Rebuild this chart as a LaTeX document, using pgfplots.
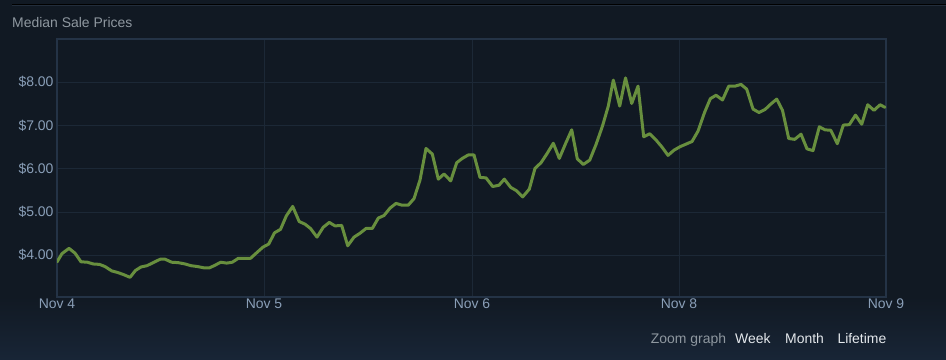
\documentclass[border=0pt]{standalone}
\usepackage{pgfplots}
\pgfplotsset{compat=1.18}
\usepackage{fontspec}
\setmainfont{Liberation Sans}
\definecolor{bgc}{HTML}{111923}
\definecolor{bgb}{HTML}{182536}
\definecolor{gridc}{HTML}{1C2836}
\definecolor{axc}{HTML}{243346}
\definecolor{linec}{HTML}{688F3E}
\definecolor{tickc}{HTML}{8A9FB8}
\definecolor{titlec}{HTML}{8F98A0}
\definecolor{linkc}{HTML}{E4E8EC}
\definecolor{topline}{HTML}{222D3B}
\begin{document}
\begin{tikzpicture}[x=1bp,y=1bp]
\fill[bgc] (0,0) rectangle (946,359);
\shade[top color=bgc, bottom color=bgb] (0,0) rectangle (946,62);
\draw[topline, line width=1.2bp] (12,353.3) -- (946,353.3);
\draw[black, line width=1.2bp] (12,354.6) -- (946,354.6);
\node[anchor=base west, inner sep=0, text=titlec, font=\fontsize{14}{16}\selectfont] at (12,331.7) {Median Sale Prices};
\begin{axis}[
  at={(57bp,62bp)}, anchor=south west,
  scale only axis, width=829bp, height=258bp,
  xmin=0, xmax=829, ymin=3.036, ymax=9.0,
  xtick={0,207,415,622,829}, xticklabels={Nov 4,Nov 5,Nov 6,Nov 8,Nov 9},
  ytick={4,5,6,7,8}, yticklabels={\$4.00,\$5.00,\$6.00,\$7.00,\$8.00},
  major tick length=0,
  grid=major, major grid style={gridc, line width=1bp},
  axis line style={axc, line width=1.6bp},
  ticklabel style={font=\fontsize{14}{16}\selectfont, text=tickc},
  xticklabel style={inner ysep=2bp},
  axis background/.style={fill=bgc},
]
\addplot[linec, line width=3bp, line join=round, line cap=round] coordinates {
(0,3.845)(5,4.04)(12,4.16)(18,4.05)(24,3.85)(30.5,3.84)(36,3.80)(42.5,3.79)(48,3.74)(54.7,3.64)
(61,3.60)(67,3.55)(73,3.49)(78.5,3.65)(84,3.73)(90,3.76)(97,3.84)(103.3,3.91)(108,3.91)(114.7,3.84)
(121.3,3.83)(128,3.80)(134,3.76)(140.5,3.74)(147,3.71)(152.5,3.71)(158,3.77)(163.7,3.84)(169.7,3.82)(175.3,3.84)
(181.3,3.93)(187.5,3.93)(193.5,3.93)(199.7,4.06)(206,4.19)(211.7,4.26)(217.5,4.52)(223.5,4.60)(229.3,4.91)(235.7,5.13)
(242.2,4.78)(248,4.72)(253.5,4.62)(260,4.42)(266.3,4.65)(272.3,4.76)(278,4.68)(284.7,4.69)(290.7,4.22)(297,4.42)
(303,4.51)(309,4.62)(315.3,4.62)(321.3,4.86)(327,4.92)(333,5.09)(339,5.20)(344.7,5.16)(351.3,5.16)(357,5.31)
(363,5.74)(369,6.47)(375.3,6.34)(381.3,5.76)(387,5.88)(393.7,5.72)(399.7,6.14)(405.3,6.24)(411.3,6.32)(417,6.32)
(423,5.80)(429,5.79)(435.7,5.59)(442,5.62)(447.3,5.76)(453.7,5.57)(459.7,5.49)(465.7,5.35)(472.3,5.53)(478,6.01)
(484,6.14)(490.3,6.36)(496.3,6.59)(502.3,6.24)(508.7,6.59)(514.7,6.90)(520.3,6.23)(526.3,6.10)(532.7,6.20)(539,6.56)
(545.5,6.99)(551.3,7.45)(556.3,8.05)(562.7,7.45)(568.5,8.10)(574.7,7.51)(581,7.91)(586.7,6.74)(592.7,6.81)(598.8,6.67)
(604.7,6.51)(611,6.31)(617,6.43)(623,6.51)(629,6.57)(635,6.63)(641,6.87)(647.5,7.30)(653.3,7.62)(659,7.70)
(665.5,7.59)(671.7,7.91)(678,7.91)(684,7.95)(689.7,7.84)(696,7.38)(702,7.30)(708,7.37)(714,7.50)(719.7,7.61)
(725.5,7.35)(731.7,6.70)(737.7,6.68)(744,6.80)(750,6.46)(756,6.42)(762.3,6.97)(768,6.90)(773.8,6.89)(780.3,6.58)
(786.3,7.01)(792.3,7.02)(798.5,7.24)(804.7,7.03)(810.7,7.48)(817,7.35)(823,7.48)(828,7.42)
};
\end{axis}
\node[anchor=base west, inner sep=0, text=titlec, font=\fontsize{14}{16}\selectfont] at (650.7,15.7) {Zoom graph};
\node[anchor=base west, inner sep=0, text=linkc, font=\fontsize{14}{16}\selectfont] at (735,15.7) {Week};
\node[anchor=base west, inner sep=0, text=linkc, font=\fontsize{14}{16}\selectfont] at (785,15.7) {Month};
\node[anchor=base west, inner sep=0, text=linkc, font=\fontsize{14}{16}\selectfont] at (837.3,15.7) {Lifetime};
\pgfresetboundingbox
\path[use as bounding box] (0,0) rectangle (946,359);
\end{tikzpicture}
\end{document}
